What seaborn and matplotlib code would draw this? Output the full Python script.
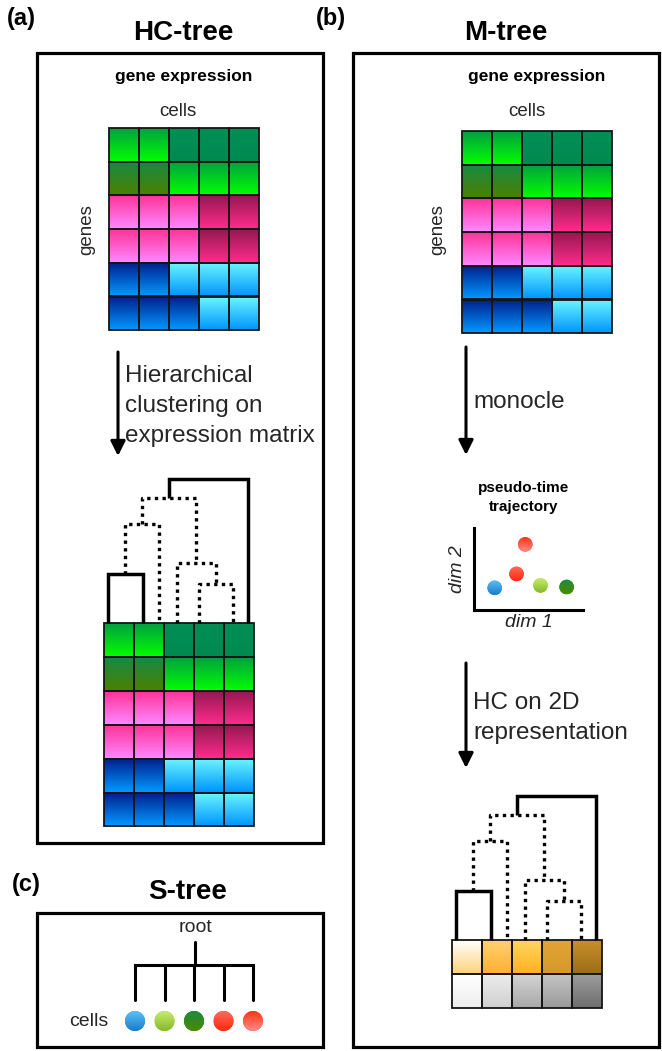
import numpy as np
import pandas as pd
import matplotlib
matplotlib.use("Agg")
import matplotlib.pyplot as plt
from matplotlib.colors import to_rgb
from matplotlib.patches import Rectangle, Ellipse
import seaborn as sns

sns.set_theme(style="white")
plt.rcParams['font.family'] = ['Liberation Sans', 'DejaVu Sans']

# ---------------- data ----------------
cells = ["c1", "c2", "c3", "c4", "c5"]
genes = ["g1", "g2", "g3", "g4", "g5", "g6"]
expr_levels = [
    ["bright_green", "bright_green", "dark_green", "dark_green", "dark_green"],
    ["olive", "olive", "bright_green", "bright_green", "bright_green"],
    ["light_pink", "light_pink", "light_pink", "dark_pink", "dark_pink"],
    ["light_pink", "light_pink", "light_pink", "dark_pink", "dark_pink"],
    ["dark_blue", "dark_blue", "light_blue", "light_blue", "light_blue"],
    ["dark_blue", "dark_blue", "dark_blue", "light_blue", "light_blue"],
]
level_colors = {  # (top, bottom) of the gradient
    "bright_green": ("#00a040", "#00ff00"),
    "dark_green": ("#008f55", "#008a50"),
    "olive": ("#168a44", "#4c8000"),
    "light_pink": ("#ff3399", "#ff88ff"),
    "dark_pink": ("#951850", "#ff2c8c"),
    "dark_blue": ("#001e8c", "#0098ff"),
    "light_blue": ("#6cf6ff", "#0096ff"),
}
pseudo_rows = [
    [("#ffffff", "#ffd27a"), ("#ffd070", "#ffb030"), ("#ffd660", "#ffb020"),
     ("#e4a435", "#d4982a"), ("#c89028", "#9c6c18")],
    [("#ffffff", "#eeeeee"), ("#ececec", "#d0d0d0"), ("#d4d4d4", "#a8a8a8"),
     ("#c4c4c4", "#9a9a9a"), ("#9c9c9c", "#6e6e6e")],
]
# dendrogram: leaf positions (in column units) and merges (a, b, height px, style)
leaf_pos = [0.12, 1.29, 1.83, 2.42, 3.16, 4.31, 4.81]
merges = [(0, 1, 49, "solid"), (7, 2, 99, "dotted"), (4, 5, 39.5, "dotted"),
          (3, 9, 60, "dotted"), (8, 10, 125, "dotted"), (11, 6, 144.5, "solid")]
# pseudo-time trajectory
traj_cells = ["blue", "red1", "red2", "lgreen", "dgreen"]
traj_dim1 = [1.9, 3.9, 4.7, 6.1, 8.5]
traj_dim2 = [2.7, 4.4, 8.0, 3.0, 2.8]
# S-tree leaves
stree_cells = ["blue", "lgreen", "dgreen", "red1", "red2"]
# cell colours: (top, bottom) gradient
cell_grad = {"blue": ("#5cc0f4", "#1a7ccc"), "lgreen": ("#c4ec6c", "#86b82a"),
             "dgreen": ("#1c8a40", "#4c8a00"), "red1": ("#ff6a58", "#ff2a10"),
             "red2": ("#ff3418", "#ff8a86")}
cell_mid = {"blue": "#3a9de0", "lgreen": "#a6d24a", "dgreen": "#2a8a22",
            "red1": "#ff4a38", "red2": "#ff5a50"}

# ---------------- figure ----------------
W, H = 662, 1051
fig = plt.figure(figsize=(W / 100, H / 100), dpi=100)
ax = fig.add_axes([0, 0, 1, 1])
ax.axis("off")


def grad_img(top, bottom, n=40):
    t = np.linspace(0, 1, n)[:, None]
    c0, c1 = np.array(to_rgb(top)), np.array(to_rgb(bottom))
    return (c0 * (1 - t) + c1 * t)[:, None, :]


def grad_cell(x0, y0, w, h, top, bottom):
    ax.imshow(grad_img(top, bottom), extent=(x0, x0 + w, y0 + h, y0),
              origin="upper", aspect="auto", interpolation="bilinear", zorder=2)
    ax.add_patch(Rectangle((x0, y0), w, h, fill=False, ec="#151515",
                           lw=1.3, zorder=3))


def grad_dot(a, x, y, rx, ry, top, bottom, inverted):
    el = Ellipse((x, y), 2 * rx, 2 * ry, fc="none", ec="none")
    a.add_patch(el)
    if inverted:   # y grows downwards
        ext = (x - rx, x + rx, y + ry, y - ry)
    else:
        ext = (x - rx, x + rx, y - ry, y + ry)
    im = a.imshow(grad_img(top, bottom), extent=ext, origin="upper",
                  aspect="auto", interpolation="bilinear", zorder=7)
    im.set_clip_path(el)


def expr_grid(x0, y0, cw=30, rh=33.7):
    for r, row in enumerate(expr_levels):
        for c, lev in enumerate(row):
            top, bot = level_colors[lev]
            grad_cell(x0 + c * cw, y0 + r * rh, cw, rh, top, bot)


def dendro(gx0, gy0, cw=30):
    xs = {i: gx0 + p * cw for i, p in enumerate(leaf_pos)}
    hs = {i: 0 for i in range(len(leaf_pos))}
    n = len(leaf_pos)
    for k, (a, b, h, st) in enumerate(merges):
        px = [xs[a], xs[a], xs[b], xs[b]]
        py = [gy0 - hs[a], gy0 - h, gy0 - h, gy0 - hs[b]]
        if st == "solid":
            ax.plot(px, py, color="black", lw=2.5, solid_joinstyle="miter",
                    solid_capstyle="butt", zorder=4)
        else:
            ax.plot(px, py, color="black", lw=2.4, linestyle=(0, (1, 1.3)),
                    dash_capstyle="butt", zorder=4)
        xs[n + k] = (xs[a] + xs[b]) / 2
        hs[n + k] = h


def box(x0, y0, x1, y1):
    ax.add_patch(Rectangle((x0, y0), x1 - x0, y1 - y0, fill=False,
                           ec="black", lw=2.3, zorder=5))


def arrow(x, y0, y1):
    ax.annotate("", xy=(x, y1), xytext=(x, y0),
                arrowprops=dict(arrowstyle="-|>", lw=2.2, color="black",
                                mutation_scale=22, shrinkA=0, shrinkB=0))


bold = dict(fontweight="bold", color="black")

# ---- panel labels / titles
ax.text(7, 18, "(a)", fontsize=17, ha="left", va="center", **bold)
ax.text(316, 19, "(b)", fontsize=17, ha="left", va="center", **bold)
ax.text(12, 885, "(c)", fontsize=17, ha="left", va="center", **bold)
ax.text(183, 33, "HC-tree", fontsize=20, ha="center", va="center", **bold)
ax.text(506, 33, "M-tree", fontsize=20, ha="center", va="center", **bold)
ax.text(188, 892, "S-tree", fontsize=20, ha="center", va="center", **bold)

box(37, 53, 323, 843)
box(353, 53, 659, 1047)
box(37, 913, 323, 1047)

# ---- panel (a)
ax.text(184, 77, "gene expression", fontsize=12.5, ha="center", va="center", **bold)
ax.text(178, 112, "cells", fontsize=13.5, ha="center", va="center")
ax.text(87, 230, "genes", fontsize=13.5, ha="center", va="center", rotation=90)
expr_grid(109, 128)
arrow(118, 352, 456)
for yy, line in zip([376, 406, 436], ["Hierarchical", "clustering on", "expression matrix"]):
    ax.text(125, yy, line, fontsize=17.5, ha="left", va="center")
dendro(104, 623)
expr_grid(104, 623, rh=33.9)

# ---- panel (b)
ax.text(537, 77, "gene expression", fontsize=12.5, ha="center", va="center", **bold)
ax.text(527, 112, "cells", fontsize=13.5, ha="center", va="center")
ax.text(438, 230, "genes", fontsize=13.5, ha="center", va="center", rotation=90)
expr_grid(462, 131)
arrow(466, 347, 455)
ax.text(473, 402, "monocle", fontsize=17.5, ha="left", va="center")
ax.text(524, 488, "pseudo-time", fontsize=11, ha="center", va="center", **bold)
ax.text(524, 507, "trajectory", fontsize=11, ha="center", va="center", **bold)

ax2 = fig.add_axes([474 / W, 1 - 610 / H, (583 - 474) / W, (610 - 528) / H])
traj = pd.DataFrame({"cell": traj_cells, "dim1": traj_dim1, "dim2": traj_dim2})
sns.scatterplot(data=traj, x="dim1", y="dim2", hue="cell", palette=cell_mid,
                s=110, edgecolor="none", legend=False, ax=ax2, clip_on=False)
for c, x, y in zip(traj_cells, traj_dim1, traj_dim2):
    grad_dot(ax2, x, y, 7.3 / 10.9, 7.3 / 8.2, *cell_grad[c], inverted=False)
ax2.set_xlim(0, 10)
ax2.set_ylim(0, 10)
ax2.set_facecolor("none")
for sp in ["top", "right"]:
    ax2.spines[sp].set_visible(False)
for sp in ["left", "bottom"]:
    ax2.spines[sp].set_color("black")
    ax2.spines[sp].set_linewidth(2.2)
ax2.set_xticks([])
ax2.set_yticks([])
ax2.set_xlabel("dim 1", fontsize=14, fontstyle="italic", labelpad=3)
ax2.set_ylabel("dim 2", fontsize=14, fontstyle="italic", labelpad=6)

arrow(466, 663, 768)
ax.text(473, 703, "HC on 2D", fontsize=17.5, ha="left", va="center")
ax.text(473, 733, "representation", fontsize=17.5, ha="left", va="center")
dendro(452, 940)
for r, row in enumerate(pseudo_rows):
    for c, (top, bot) in enumerate(row):
        grad_cell(452 + c * 30, 940 + r * 34, 30, 34, top, bot)

# ---- panel (c)
ax.text(195, 927, "root", fontsize=14, ha="center", va="center")
sx = [135 + 29.5 * i for i in range(len(stree_cells))]
ax.plot([195, 195], [942, 965], color="black", lw=2.2)
ax.plot([sx[0], sx[-1]], [965, 965], color="black", lw=2.2, solid_capstyle="projecting")
for x in sx:
    ax.plot([x, x], [965, 1000], color="black", lw=2.2)
ax.text(89, 1021, "cells", fontsize=14, ha="center", va="center")
sdf = pd.DataFrame({"cell": stree_cells, "x": sx, "y": [1021] * len(sx)})
sns.scatterplot(data=sdf, x="x", y="y", hue="cell", palette=cell_mid,
                s=210, edgecolor="none", legend=False, ax=ax, zorder=6)
for c, x in zip(stree_cells, sx):
    grad_dot(ax, x, 1021, 10, 10, *cell_grad[c], inverted=True)

ax.set_xlim(0, W)
ax.set_ylim(H, 0)
ax.set_xlabel("")
ax.set_ylabel("")
fig.savefig("out.png", dpi=100)
